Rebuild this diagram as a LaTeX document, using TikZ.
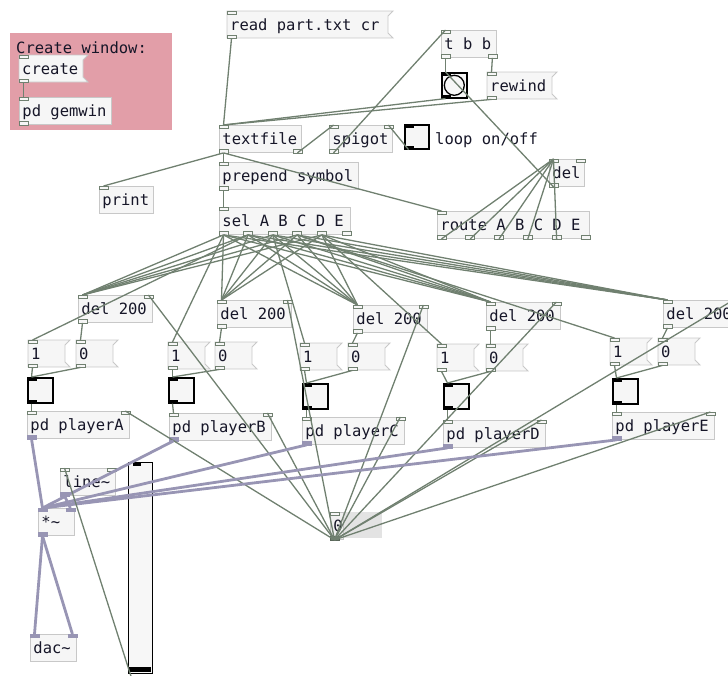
\documentclass[tikz,border=0pt]{standalone}
\usepackage{fontspec}
\setmonofont[WordSpace={1,0,0}]{DejaVu Sans Mono}
\usetikzlibrary{calc}

\definecolor{boxfill}{RGB}{246,246,246}
\definecolor{boxline}{RGB}{200,200,200}
\definecolor{wirecol}{RGB}{112,128,112}
\definecolor{sigcol}{RGB}{152,149,180}
\definecolor{canvaspink}{RGB}{226,158,168}
\definecolor{txtcol}{RGB}{22,22,40}

\newcommand{\pdfont}{\ttfamily\fontsize{15.5}{18}\selectfont}

% inlets / outlets of a box: style, node, count
\newcommand{\pdin}[3][iolet]{%
  \pgfmathtruncatemacro\nlast{#3-1}%
  \foreach \k in {0,...,\nlast}{%
    \ifnum\nlast=0 \def\pos{0}\else\pgfmathsetmacro\pos{\k/\nlast}\fi
    \path ($(#2.north west)!\pos!([xshift=-9pt]#2.north east)$) coordinate (io);
    \draw[#1] (io) rectangle ++(9,3.5);
    \coordinate (#2-i\k) at ([xshift=4.5pt]io);
  }}
\newcommand{\pdout}[3][iolet]{%
  \pgfmathtruncatemacro\nlast{#3-1}%
  \foreach \k in {0,...,\nlast}{%
    \ifnum\nlast=0 \def\pos{0}\else\pgfmathsetmacro\pos{\k/\nlast}\fi
    \path ($(#2.south west)!\pos!([xshift=-9pt]#2.south east)$) coordinate (io);
    \draw[#1] (io) rectangle ++(9,-3.5);
    \coordinate (#2-o\k) at ([xshift=4.5pt]io);
  }}
% message box with flag: name, x, y, width, text
\newcommand{\msg}[5]{%
  \filldraw[fill=boxfill, draw=boxline, line width=0.9pt]
    (#2,#3) -- ++(#4,0) -- ++(-5,5) -- ++(0,17) -- ++(5,5) -- ++(-#4,0) -- cycle;
  \node[objtext=#4] (#1) at (#2,#3) {#5};
  \pdin{#1}{1} \pdout{#1}{1}}

\tikzset{
  objtext/.style={anchor=north west, minimum height=27pt, text width=#1pt,
    inner xsep=0pt, inner ysep=0pt, align=flush left, text height=14pt, text depth=2pt,
    execute at begin node={\spaceskip=\fontdimen2\font\relax\hspace*{3pt}}},
  obj/.style={objtext=#1, draw=boxline, fill=boxfill, line width=0.9pt},
  toggle/.style={draw=black, line width=1.6pt, fill=boxfill, minimum size=25pt,
    inner sep=0pt, anchor=north west},
  iolet/.style={draw=wirecol, fill=boxfill, line width=0.8pt},
  sigio/.style={draw=sigcol, fill=sigcol, line width=0.8pt},
  togio/.style={draw=black, fill=black, line width=0.5pt},
  wire/.style={draw=wirecol, line width=1.3pt},
  sig/.style={draw=sigcol, line width=2.8pt}
}

\begin{document}
\begin{tikzpicture}[x=1pt, y=-1pt, font=\pdfont, text=txtcol]
\useasboundingbox (0,0) rectangle (728,675);

% gem window
\fill[canvaspink] (10,33) rectangle (172,130);
\node[anchor=base west, inner sep=0pt] (title) at (16,53) {Create window:};
\msg{create}{19}{55}{69}{create}
\node[obj=92] (gemwin) at (19,97) {pd gemwin};
\pdin{gemwin}{1} \pdout{gemwin}{1}

% file reading
\msg{read}{227}{11}{166}{read part.txt cr}
\node[obj=82] (textfile) at (219,125) {textfile};
\pdin{textfile}{1} \pdout{textfile}{2}
\node[obj=63] (spigot) at (329,125) {spigot};
\pdin{spigot}{2} \pdout{spigot}{1}
\node[toggle, minimum size=24pt] (loop) at (404,124) {};
\pdin[togio]{loop}{1} \pdout[togio]{loop}{1}
\node[anchor=base west, inner sep=0pt] (looptxt) at (435,144) {loop on/off};
\node[obj=55] (tbb) at (441,30) {t b b};
\pdin{tbb}{1} \pdout{tbb}{2}
\node[toggle] (bang) at (441,72) {};
\draw[line width=1.3pt] (bang.center) circle (10);
\pdin[togio]{bang}{1} \pdout[togio]{bang}{1}
\msg{rewind}{487}{72}{70}{rewind}
\node[obj=35] (del) at (549,159) {del};
\pdin{del}{2} \pdout{del}{1}
\node[obj=152] (route) at (437,211) {route A B C D E};
\pdin{route}{1} \pdout{route}{6}
\node[obj=139] (prepend) at (219,162) {prepend symbol};
\pdin{prepend}{1} \pdout{prepend}{1}
\node[obj=54] (print) at (99,186) {print};
\pdin{print}{1}
\node[obj=131] (sel) at (219,207) {sel A B C D E};
\pdin{sel}{1} \pdout{sel}{6}

% the five players
\foreach \n/\dx/\dy/\ox/\oy/\zx/\tx/\ty/\px/\py in {
    A/78/295/28/340/76/27/377/27/411,
    B/217/300/168/342/215/168/377/169/413,
    C/353/305/300/343/348/302/383/302/417,
    D/486/302/437/344/486/443/383/443/420,
    E/663/300/610/338/658/612/378/612/412}{
  \node[obj=74] (del\n) at (\dx,\dy) {del 200};
  \pdin{del\n}{2} \pdout{del\n}{1}
  \msg{one\n}{\ox}{\oy}{42}{1}
  \msg{zero\n}{\zx}{\oy}{42}{0}
  \node[toggle] (tog\n) at (\tx,\ty) {};
  \pdin[togio]{tog\n}{1} \pdout[togio]{tog\n}{1}
  \node[obj=102] (play\n) at (\px,\py) {pd player\n};
  \pdin{play\n}{2} \pdout[sigio]{play\n}{1}
}

% audio out
\node[obj=55] (line) at (60,468) {line\char`\~};
\pdin{line}{2} \pdout[sigio]{line}{1}
\node[obj=36] (mul) at (38,508) {*\char`\~};
\pdin[sigio]{mul}{2} \pdout[sigio]{mul}{1}
\node[obj=46] (dac) at (30,634) {dac\char`\~};
\pdin[sigio]{dac}{2}
\node[draw=black, line width=1.3pt, fill=white!97!black, minimum width=24pt,
  minimum height=211pt, inner sep=0pt, anchor=north west] (slider) at (128,462) {};
\fill[black] (129,667) rectangle (151,672);
\fill[black] (133,463) rectangle (141,466);
\coordinate (slider-o0) at ([xshift=3pt, yshift=-2pt]slider.south west);

% delay time number box
\fill[gray!22] (330,512) rectangle (382,538);
\node[objtext=13, draw=gray!45, fill=gray!12, line width=0.9pt] (num) at (330,512) {0};
\pdin{num}{1} \pdout[wirecol!80!black, fill=wirecol]{num}{1}

% connections
\draw[wire] (create-o0) -- (gemwin-i0);
\draw[wire] (read-o0) -- (textfile-i0);
\draw[wire] (textfile-o0) -- (print-i0);
\draw[wire] (textfile-o0) -- (prepend-i0);
\draw[wire] (textfile-o0) -- (route-i0);
\draw[wire] (textfile-o1) -- (spigot-i0);
\draw[wire] (loop-o0) -- (spigot-i1);
\draw[wire] (spigot-o0) -- (tbb-i0);
\draw[wire] (tbb-o0) -- (bang-i0);
\draw[wire] (tbb-o1) -- (rewind-i0);
\draw[wire] (bang-o0) -- (textfile-i0);
\draw[wire] (rewind-o0) -- (textfile-i0);
\draw[wire] (del-o0) -- (bang-i0);
\foreach \o in {0,...,4} \draw[wire] (route-o\o) -- (del-i0);
\draw[wire] (prepend-o0) -- (sel-i0);
\foreach \o in {0,...,4}
  \foreach \n in {A,B,C,D,E} \draw[wire] (sel-o\o) -- (del\n-i0);
\foreach \o/\n in {0/B,1/A,2/C,3/E,4/D} \draw[wire] (sel-o\o) -- (one\n-i0);
\foreach \n in {A,B,C,D,E}{
  \draw[wire] (del\n-o0) -- (zero\n-i0);
  \draw[wire] (one\n-o0) -- (tog\n-i0);
  \draw[wire] (zero\n-o0) -- (tog\n-i0);
  \draw[wire] (tog\n-o0) -- (play\n-i0);
  \draw[wire] (num-o0) -- (del\n-i1);
  \draw[wire] (num-o0) -- (play\n-i1);
  \draw[sig] (play\n-o0) -- (mul-i0);
}
\draw[wire] (slider-o0) -- (line-i0);
\draw[sig] (line-o0) -- (mul-i1);
\draw[sig] (mul-o0) -- (dac-i0);
\draw[sig] (mul-o0) -- (dac-i1);
\end{tikzpicture}
\end{document}
